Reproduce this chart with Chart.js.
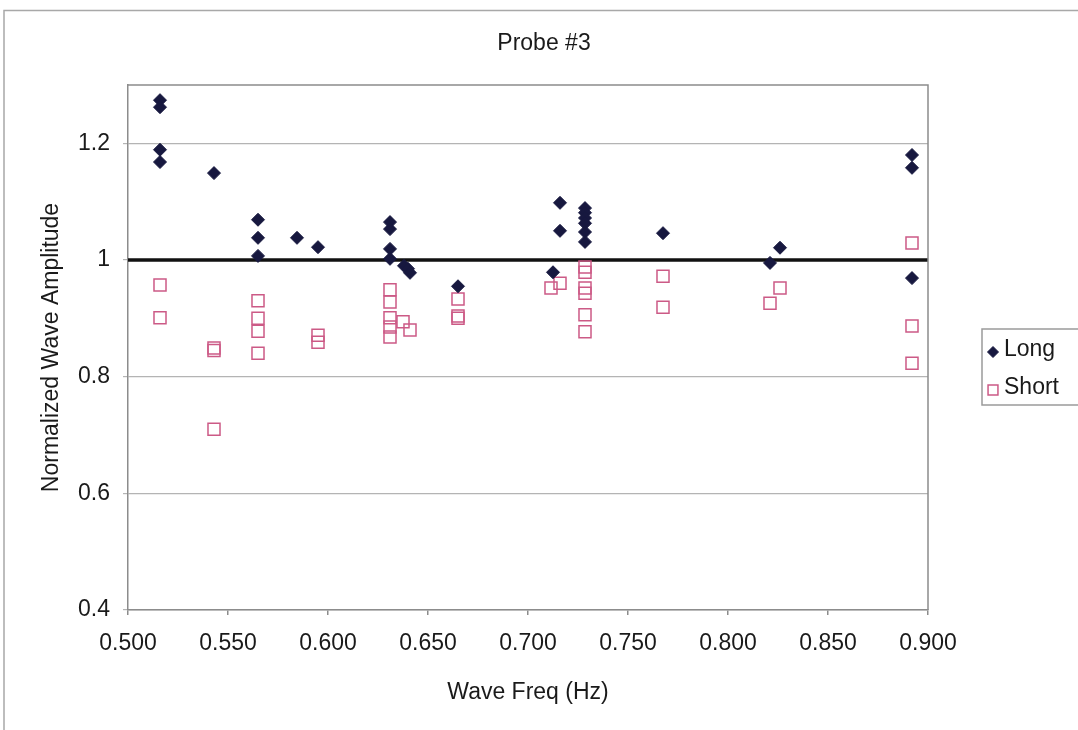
<!DOCTYPE html>
<html>
<head>
<meta charset="utf-8">
<title>Probe #3</title>
<script src="https://cdn.jsdelivr.net/npm/chart.js@4.4.1/dist/chart.umd.min.js"></script>
<style>
  html, body { margin: 0; padding: 0; background: #fff; }
  #wrap { position: relative; width: 1078px; height: 730px; }
</style>
</head>
<body>
<div id="wrap"><canvas id="probeChart" width="1078" height="730"></canvas></div>
<script>
// ===== data =====
const longFreq = [0.516, 0.516, 0.516, 0.516, 0.543, 0.565, 0.565, 0.565, 0.5845, 0.595,
  0.631, 0.631, 0.631, 0.631, 0.638, 0.640, 0.641, 0.665, 0.7125, 0.716, 0.716,
  0.7285, 0.7285, 0.7285, 0.7285, 0.7285, 0.7285, 0.7675, 0.821, 0.826, 0.892, 0.892, 0.892];
const longAmp = [1.274, 1.262, 1.189, 1.168, 1.149, 1.069, 1.038, 1.007, 1.038, 1.022,
  1.065, 1.053, 1.019, 1.002, 0.990, 0.985, 0.978, 0.955, 0.979, 1.098, 1.050,
  1.089, 1.081, 1.072, 1.063, 1.048, 1.031, 1.046, 0.995, 1.021, 1.180, 1.158, 0.969];

const shortFreq = [0.516, 0.516, 0.543, 0.543, 0.543, 0.565, 0.565, 0.565, 0.565, 0.595, 0.595,
  0.631, 0.631, 0.631, 0.631, 0.631, 0.6375, 0.641, 0.665, 0.665, 0.665, 0.7115, 0.716,
  0.7285, 0.7285, 0.7285, 0.7285, 0.7285, 0.7285, 0.7675, 0.7675, 0.821, 0.826, 0.892, 0.892, 0.892];
const shortAmp = [0.957, 0.901, 0.849, 0.845, 0.710, 0.930, 0.900, 0.878, 0.840, 0.871, 0.859,
  0.949, 0.928, 0.901, 0.885, 0.868, 0.894, 0.880, 0.933, 0.904, 0.900, 0.952, 0.960,
  0.988, 0.979, 0.952, 0.943, 0.906, 0.877, 0.972, 0.919, 0.926, 0.952, 1.029, 0.887, 0.823];

const refFreq = [0.5, 0.9];
const refAmp = [1, 1];

const xTicks = [0.5, 0.55, 0.6, 0.65, 0.7, 0.75, 0.8, 0.85, 0.9];
const yTicks = [0.4, 0.6, 0.8, 1, 1.2];

const seriesNames = ["Long", "Short"];
const chartTitle = "Probe #3";

// ===== styling =====
const FONT = "'Liberation Sans', Arial, sans-serif";
const TEXT_COLOR = "#1a1a1a";
const LONG_COLOR = "#17183f";
const SHORT_COLOR = "#cc5a86";

const toPoints = (xs, ys) => xs.map((x, i) => ({ x: x, y: ys[i] }));

// frame, plot box, title and legend drawn around the chart
const decorations = {
  id: "decorations",
  beforeDraw(chart) {
    const ctx = chart.ctx;
    ctx.save();
    ctx.strokeStyle = "#a8a8a8";
    ctx.lineWidth = 1.5;
    ctx.beginPath();
    ctx.moveTo(4, 730);
    ctx.lineTo(4, 10.5);
    ctx.lineTo(1078, 10.5);
    ctx.stroke();
    ctx.restore();
  },
  afterDatasetsDraw(chart) {
    const ctx = chart.ctx;
    const a = chart.chartArea;
    ctx.save();
    // top/right edges of the plot box
    ctx.strokeStyle = "#8c8c8c";
    ctx.lineWidth = 1.5;
    ctx.beginPath();
    ctx.moveTo(a.left, a.top);
    ctx.lineTo(a.right, a.top);
    ctx.lineTo(a.right, a.bottom);
    ctx.stroke();

    // title
    ctx.fillStyle = TEXT_COLOR;
    ctx.font = "23px " + FONT;
    ctx.textAlign = "center";
    ctx.textBaseline = "middle";
    ctx.fillText(chartTitle, 544, 44);

    // legend box
    ctx.strokeStyle = "#9a9a9a";
    ctx.lineWidth = 1.5;
    ctx.strokeRect(982, 329, 110, 76);

    const items = chart.data.datasets.filter(d => seriesNames.includes(d.label));
    const rowY = [350, 388];
    const markerSize = { rectRot: 5.5, rect: 7 };
    items.forEach((ds, i) => {
      ctx.fillStyle = ds.backgroundColor;
      ctx.strokeStyle = ds.borderColor;
      ctx.lineWidth = ds.borderWidth;
      Chart.helpers.drawPoint(ctx, {
        pointStyle: ds.pointStyle,
        radius: markerSize[ds.pointStyle],
        rotation: 0,
        borderWidth: ds.borderWidth
      }, 993, rowY[i] + 2);
      ctx.fillStyle = TEXT_COLOR;
      ctx.textAlign = "left";
      ctx.textBaseline = "middle";
      ctx.font = "23px " + FONT;
      ctx.fillText(ds.label, 1004, rowY[i]);
    });
    ctx.restore();
  }
};

new Chart(document.getElementById("probeChart"), {
  type: "scatter",
  data: {
    datasets: [
      {
        label: "ref",
        data: toPoints(refFreq, refAmp),
        showLine: true,
        borderColor: "#111",
        borderWidth: 3.5,
        pointRadius: 0,
        order: 3
      },
      {
        label: seriesNames[0],
        data: toPoints(longFreq, longAmp),
        pointStyle: "rectRot",
        pointRadius: 6.5,
        backgroundColor: LONG_COLOR,
        borderColor: LONG_COLOR,
        borderWidth: 1,
        order: 1
      },
      {
        label: seriesNames[1],
        data: toPoints(shortFreq, shortAmp),
        pointStyle: "rect",
        pointRadius: 8.5,
        backgroundColor: "rgba(255,255,255,0)",
        borderColor: SHORT_COLOR,
        borderWidth: 1.5,
        order: 2
      }
    ]
  },
  options: {
    responsive: false,
    animation: false,
    layout: { padding: { left: 0, top: 85, right: 150, bottom: 0 } },
    plugins: {
      legend: { display: false },
      title: { display: false },
      tooltip: { enabled: false }
    },
    scales: {
      x: {
        type: "linear",
        min: 0.5,
        max: 0.9,
        afterBuildTicks: scale => { scale.ticks = xTicks.map(v => ({ value: v })); },
        afterFit: scale => { scale.height = 120; },
        ticks: {
          padding: 15,
          color: TEXT_COLOR,
          font: { family: FONT, size: 23 },
          callback: v => Number(v).toFixed(3)
        },
        grid: { drawOnChartArea: false, drawTicks: true, tickLength: 5, color: "#8c8c8c", lineWidth: 1.5 },
        border: { color: "#8c8c8c", width: 1.5 },
        title: {
          display: true,
          text: "Wave Freq (Hz)",
          color: TEXT_COLOR,
          font: { family: FONT, size: 23 },
          padding: { top: 0, bottom: 24 }
        }
      },
      y: {
        min: 0.4,
        max: 1.3,
        afterBuildTicks: scale => { scale.ticks = yTicks.map(v => ({ value: v })); },
        afterFit: scale => { scale.width = 128; },
        ticks: {
          padding: 13,
          color: TEXT_COLOR,
          font: { family: FONT, size: 23 },
          callback: v => String(Math.round(v * 10) / 10)
        },
        grid: { color: "#b4b4b4", lineWidth: 1.2, tickLength: 5 },
        border: { color: "#8c8c8c", width: 1.5 },
        title: {
          display: true,
          text: "Normalized Wave Amplitude",
          color: TEXT_COLOR,
          font: { family: FONT, size: 23 },
          padding: { top: 38, bottom: 0 }
        }
      }
    }
  },
  plugins: [decorations]
});
</script>
</body>
</html>
